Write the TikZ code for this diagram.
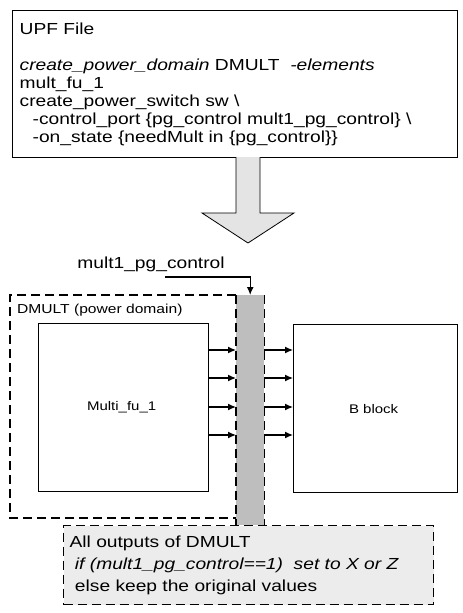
\documentclass[tikz,border=0pt]{standalone}
\usepackage{fontspec}
\setmainfont{Liberation Sans}[FakeStretch=1.2]
\usepackage{xcolor}
\usepackage{tikz}
\usetikzlibrary{
  arrows.meta,
  positioning,
  calc
}
\definecolor{BarGray}{HTML}{BEBEBE}
\definecolor{ArrowGray}{HTML}{E4E4E4}
\definecolor{NoteGray}{HTML}{ECECEC}
\tikzset{
  filebox/.style={
    draw,
    line width=1.3pt,
    anchor=north west,
    align=left,
    inner sep=7pt,
    font=\fontsize{16}{18}\selectfont
  },
  block/.style={
    draw,
    line width=1.4pt,
    anchor=north west,
    align=center,
    font=\fontsize{12.5}{14}\selectfont
  },
  domainline/.style={
    line width=1.3pt,
    dash pattern=on 9pt off 5pt
  },
  note/.style={
    draw,
    line width=1.3pt,
    dash pattern=on 9pt off 5pt,
    fill=NoteGray,
    anchor=north west,
    align=left,
    inner sep=6pt,
    font=\fontsize{16}{22}\selectfont
  },
  connection/.style={
    -{Latex[length=8pt,width=7pt]},
    line width=1.3pt
  }
}

\begin{document}
\begin{tikzpicture}[x=1pt,y=-1pt]

  \useasboundingbox (0,0) rectangle (463,613);

  \node[
    filebox,
    minimum width=445,
    minimum height=147,
    text width=431
  ] (upf) at (12,10) {
    UPF File\\[18pt]
    \textit{create\_power\_domain} DMULT \ \textit{-elements}\\
    mult\_fu\_1\\
    create\_power\_switch sw \textbackslash\\
    \hspace*{13pt}-control\_port \{pg\_control mult1\_pg\_control\} \textbackslash\\
    \hspace*{13pt}-on\_state \{needMult in \{pg\_control\}\}
  };

  % big arrow from the UPF file down to the design
  \draw[fill=ArrowGray, line width=0.8pt]
  (236,157) -- (236,213) -- (202,213) -- (248,243) --
  (294,213) -- (260,213) -- (260,157);

  \node[
    font=\fontsize{16}{18}\selectfont
  ] (ctrltext) at (151,264) {
    mult1\_pg\_control
  };

  \node[
    fill=BarGray,
    anchor=north west,
    minimum width=28,
    minimum height=230,
    inner sep=0pt
  ] (pgbar) at (236,295) {};

  \coordinate (domNW) at (10,295);
  \coordinate (domSW) at (10,518);

  \draw[domainline]
  (pgbar.north west) -- (domNW) -- (domSW) -- (domSW -| pgbar.west);
  \draw[domainline] (pgbar.north west) -- (pgbar.south west);
  \draw[domainline] (pgbar.north east) -- (pgbar.south east);

  \node[
    anchor=west,
    inner sep=3pt,
    font=\fontsize{13}{15}\selectfont
  ] (domlabel) at (14,310) {
    DMULT (power domain)
  };

  \node[
    block,
    minimum width=170,
    minimum height=168
  ] (multi) at (38,323) {
    Multi\_fu\_1
  };

  \node[
    block,
    minimum width=164,
    minimum height=168
  ] (bblock) at (293,324) {
    B block
  };

  \coordinate (ctrlstart) at (165,277);
  \draw[connection] (ctrlstart) -| (pgbar.north);

  \coordinate (out1) at ([yshift=-27pt]multi.north east);
  \coordinate (out2) at ([yshift=-55pt]multi.north east);
  \coordinate (out3) at ([yshift=-84pt]multi.north east);
  \coordinate (out4) at ([yshift=-112pt]multi.north east);

  \draw[connection] (out1) -- (out1 -| pgbar.west);
  \draw[connection] (out2) -- (out2 -| pgbar.west);
  \draw[connection] (out3) -- (out3 -| pgbar.west);
  \draw[connection] (out4) -- (out4 -| pgbar.west);

  \draw[connection] (out1 -| pgbar.east) -- (out1 -| bblock.west);
  \draw[connection] (out2 -| pgbar.east) -- (out2 -| bblock.west);
  \draw[connection] (out3 -| pgbar.east) -- (out3 -| bblock.west);
  \draw[connection] (out4 -| pgbar.east) -- (out4 -| bblock.west);

  \node[
    note,
    minimum width=370,
    minimum height=79,
    text width=358
  ] (notebox) at (63,525) {
    All outputs of DMULT\\
    \ \textit{if (mult1\_pg\_control==1) \ set to X or Z}\\
    \ else keep the original values
  };

\end{tikzpicture}
\end{document}
